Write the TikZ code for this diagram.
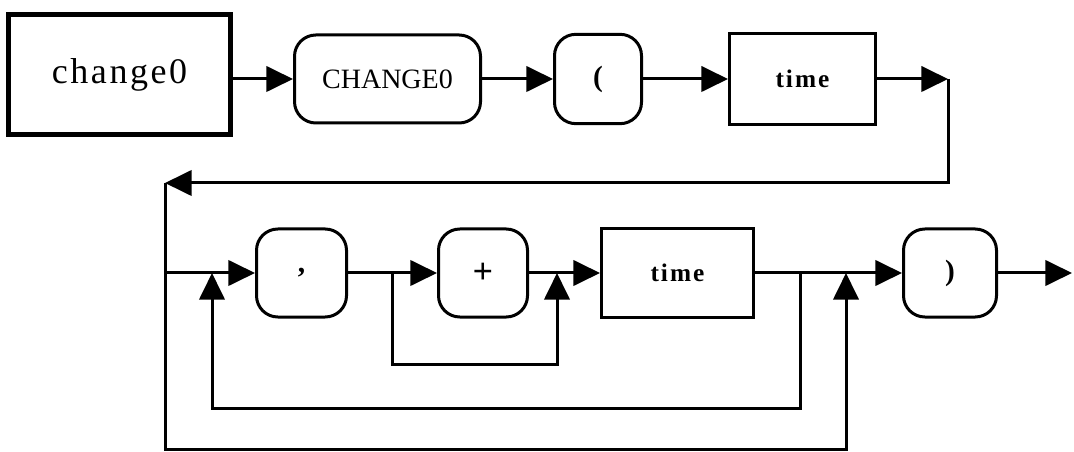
\documentclass[tikz,border=0pt]{standalone}
\usepackage{fontspec}
\setmainfont{Liberation Serif}
\newfontfamily\bigspaced[LetterSpace=7]{Liberation Serif}
\newfontfamily\smallspaced[LetterSpace=8]{Liberation Serif}
\usetikzlibrary{arrows.meta}
\begin{document}
\begin{tikzpicture}[x=0.75pt,y=-0.75pt,
  ln/.style={line width=2.25pt},
  arr/.style={ln,-{Triangle[length=20pt,width=19pt]}},
  term/.style={draw,ln,rounded corners=16pt,inner sep=0pt},
  nonterm/.style={draw,ln,inner sep=0pt},
  symb/.style={font=\bfseries\fontsize{22}{26}\selectfont},
  tword/.style={font=\smallspaced\bfseries\fontsize{19}{22}\selectfont}
]
\useasboundingbox (0,0) rectangle (1074,452);
% row 1
\node[draw,line width=3.75pt,inner sep=0pt,minimum width=166.5pt,minimum height=90pt,
      font=\bigspaced\fontsize{27}{32}\selectfont] (c0) at (119.5,74.5) {change0};
\node[term,minimum width=139.5pt,minimum height=66pt,font=\fontsize{21}{25}\selectfont] (k1) at (387.5,79) {CHANGE0};
\node[term,symb,minimum width=65.25pt,minimum height=67pt] (lp) at (598,79) {(};
\node[nonterm,tword,minimum width=109.5pt,minimum height=68pt] (t1) at (802.5,79) {time};
\coordinate (e1) at (948,79);
\coordinate (e2) at (948,183);
\coordinate (e3) at (165,183);
\coordinate (b0) at (165,449);
% row 2
\node[term,symb,minimum width=67.5pt,minimum height=66pt] (cm) at (301.5,273) {,};
\node[term,symb,minimum width=66.75pt,minimum height=66pt,font=\bfseries\fontsize{27}{30}\selectfont] (pl) at (483,273) {+};
\node[nonterm,tword,minimum width=114pt,minimum height=66pt] (t2) at (677.5,273) {time};
\node[term,symb,minimum width=69.75pt,minimum height=66pt] (rp) at (950,273) {)};
\coordinate (out) at (1072,273);
\coordinate (j1) at (212,273);
\coordinate (s1) at (392,273);
\coordinate (s1b) at (392,364);
\coordinate (s2) at (557,273);
\coordinate (j2) at (800,273);
\coordinate (j2b) at (800,408);
\coordinate (j3) at (846,273);
% connectors row 1
\draw[arr] (c0.east |- k1.west) -- (k1.west);
\draw[arr] (k1.east) -- (lp.west);
\draw[arr] (lp.east) -- (t1.west);
\draw[arr] (t1.east) -- (e1);
\draw[arr] (e1) -- (e2) -- (e3);
% outer bypass
\draw[arr] (e3) -- (b0) -| (j3);
% row 2
\draw[arr] (e3 |- cm.west) -- (cm.west);
\draw[arr] (cm.east) -- (pl.west);
\draw[arr] (s1) -- (s1b) -| (s2);
\draw[arr] (pl.east) -- (t2.west);
\draw[arr] (t2.east) -- (rp.west);
\draw[arr] (j2) -- (j2b) -| (j1);
\draw[arr] (rp.east) -- (out);
\end{tikzpicture}
\end{document}
